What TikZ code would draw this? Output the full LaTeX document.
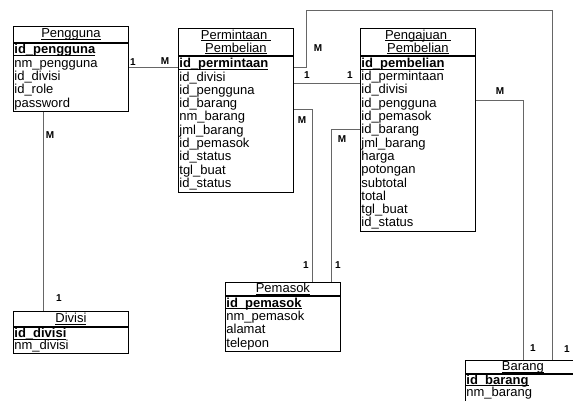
\documentclass[tikz,border=0pt]{standalone}
\usepackage{fontspec}
\setmainfont{Liberation Sans}
\usepackage{xcolor}
\usetikzlibrary{positioning}
\definecolor{linegray}{HTML}{666666}
\newcommand{\keyul}[1]{\underline{\raisebox{0pt}[\height][0pt]{#1}}}

\tikzset{
  enttitle/.style={draw, line width=0.8pt, anchor=north west, minimum width=115pt,
                   inner sep=0pt, align=center, font=\fontsize{13}{13}\selectfont},
  entbody/.style={draw, line width=0.8pt, minimum width=115pt, text width=113pt,
                  inner xsep=1pt, inner ysep=1pt, align=left,
                  font=\fontsize{13}{13.3}\selectfont},
  rel/.style={draw=linegray, line width=0.7pt},
  card/.style={inner sep=0pt, font=\bfseries\fontsize{10}{10}\selectfont}
}

\begin{document}
\begin{tikzpicture}[x=1pt,y=-1pt]
  \useasboundingbox (0,0) rectangle (573,401);
  \clip (0,0) rectangle (573,401);

  % tabel
  \node[enttitle, minimum height=16pt] (pgT) at (13,26) {\keyul{Pengguna}};
  \node[entbody, below=0pt of pgT, minimum height=68pt] (pgB) {%
    \keyul{\textbf{id\_pengguna}}\\nm\_pengguna\\id\_divisi\\id\_role\\password};

  \node[enttitle, minimum height=27pt] (pmT) at (178,28)
    {\keyul{Permintaan\ }\\\keyul{Pembelian}};
  \node[entbody, below=0pt of pmT, minimum height=136pt] (pmB) {%
    \keyul{\textbf{id\_permintaan}}\\id\_divisi\\id\_pengguna\\id\_barang\\
    nm\_barang\\jml\_barang\\id\_pemasok\\id\_status\\tgl\_buat\\id\_status};

  \node[enttitle, minimum height=27pt] (pjT) at (360,28)
    {\keyul{Pengajuan\ }\\\keyul{Pembelian}};
  \node[entbody, below=0pt of pjT, minimum height=175pt] (pjB) {%
    \keyul{\textbf{id\_pembelian}}\\id\_permintaan\\id\_divisi\\id\_pengguna\\
    id\_pemasok\\id\_barang\\jml\_barang\\harga\\potongan\\subtotal\\total\\
    tgl\_buat\\id\_status};

  \node[enttitle, minimum height=13pt] (psT) at (225,282) {\keyul{Pemasok}};
  \node[entbody, below=0pt of psT, minimum height=55pt] (psB) {%
    \keyul{\textbf{id\_pemasok}}\\nm\_pemasok\\alamat\\telepon};

  \node[enttitle, minimum height=15pt] (dvT) at (13,311) {\keyul{Divisi}};
  \node[entbody, below=0pt of dvT, minimum height=26pt,
        font=\fontsize{13}{11}\selectfont, inner ysep=0.5pt] (dvB) {%
    \keyul{\textbf{id\_divisi}}\\nm\_divisi};

  \node[enttitle, minimum height=13pt] (brT) at (465,360) {\keyul{Barang}};
  \node[entbody, below=0pt of brT, text depth=20pt,
        font=\fontsize{13}{11}\selectfont, inner ysep=0.5pt] (brB) {%
    \keyul{\textbf{id\_barang}}\\nm\_barang};

  % titik sambung
  \coordinate (pgR) at ([yshift=-25pt]pgB.north east);
  \coordinate (pgD) at ([xshift=30pt]pgB.south west);
  \coordinate (pmR1) at ([yshift=-12pt]pmB.north east);
  \coordinate (pmR2) at ([yshift=-28pt]pmB.north east);
  \coordinate (pmR3) at ([yshift=-54pt]pmB.north east);
  \coordinate (pjL) at ([yshift=-74pt]pjB.north west);
  \coordinate (pjR) at ([yshift=-45pt]pjB.north east);
  \coordinate (psIn1) at ([xshift=-28pt]psT.north east);
  \coordinate (psIn2) at ([xshift=-9pt]psT.north east);
  \coordinate (brIn1) at ([xshift=-57pt]brT.north east);
  \coordinate (brIn2) at ([xshift=-28pt]brT.north east);

  % relasi
  \draw[rel] (pgR) -- (pgR -| pmB.west);
  \draw[rel] (pgD) -- (pgD |- dvT.north);
  \draw[rel] (pmR1) -- ++(13,0) -- ++(0,-57) -| (brIn2);
  \draw[rel] (pmR2) -- (pmR2 -| pjB.west);
  \draw[rel] (pmR3) -| (psIn1);
  \draw[rel] (pjL) -| (psIn2);
  \draw[rel] (pjR) -| (brIn1);

  % kardinalitas
  \node[card] (c1) at (133,62) {1};
  \node[card] (c2) at (165,61) {M};
  \node[card] (c3) at (50,135) {M};
  \node[card] (c4) at (59,298) {1};
  \node[card] (c5) at (318,48) {M};
  \node[card] (c6) at (307,75) {1};
  \node[card] (c7) at (350,75) {1};
  \node[card] (c8) at (302,120) {M};
  \node[card] (c9) at (342,139) {M};
  \node[card] (c10) at (306,265) {1};
  \node[card] (c11) at (338,265) {1};
  \node[card] (c12) at (500,91) {M};
  \node[card] (c13) at (533,348) {1};
  \node[card] (c14) at (567,349) {1};
\end{tikzpicture}
\end{document}
